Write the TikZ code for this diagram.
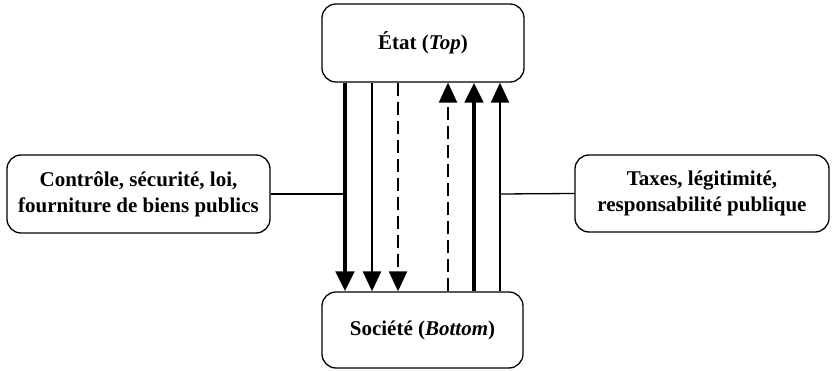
\documentclass[tikz,border=0pt]{standalone}
\usepackage{fontspec}
\setmainfont{Liberation Serif}
\usetikzlibrary{arrows.meta}
\tikzset{
  box/.style={draw, line width=1.3pt, rounded corners=14pt, align=center,
    font=\bfseries\fontsize{21}{26}\selectfont, inner sep=0pt},
  tip/.style={-{Triangle[width=18pt,length=20pt]}},
  heavy/.style={tip, line width=4.5pt},
  medium/.style={tip, line width=2.2pt},
  dashy/.style={tip, line width=2.2pt, dash pattern=on 13pt off 6pt},
  link/.style={line width=1.3pt}
}
\begin{document}
\begin{tikzpicture}[x=1pt,y=-1pt]
\useasboundingbox (0,0) rectangle (832,371);
\node[box, minimum width=202pt, minimum height=78pt] (top) at (423,43) {État (\textit{Top})};
\node[box, minimum width=201pt, minimum height=76pt] (bot) at (422.5,330) {Société (\textit{Bottom})};
\node[box, minimum width=263pt, minimum height=78pt] (left) at (138.5,194) {Contrôle, sécurité, loi,\\fourniture de biens publics};
\node[box, minimum width=254pt, minimum height=77pt] (right) at (702,193.5) {Taxes, légitimité,\\responsabilité publique};
\draw[heavy] (top.south -| 345,0) -- (bot.north -| 345,0);
\draw[medium] (top.south -| 372,0) -- (bot.north -| 372,0);
\draw[dashy] (top.south -| 398,0) -- (bot.north -| 398,0);
\draw[dashy] (bot.north -| 448,0) -- (top.south -| 448,0);
\draw[heavy] (bot.north -| 474,0) -- (top.south -| 474,0);
\draw[medium] (bot.north -| 500,0) -- (top.south -| 500,0);
\coordinate (lj) at (345,194);
\coordinate (rj) at (500,194);
\draw[link] (left.east) -- (lj);
\draw[link] (right.west) -- (rj);
\end{tikzpicture}
\end{document}
